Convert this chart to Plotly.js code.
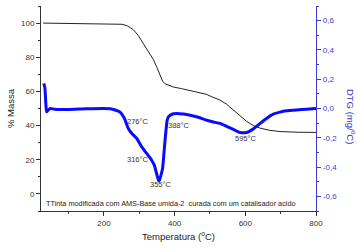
<!DOCTYPE html>
<html><head><meta charset="utf-8">
<script src="https://cdn.plot.ly/plotly-3.0.1.min.js"></script>
<style>html,body{margin:0;padding:0;background:#fff}#c{width:358px;height:250px}</style>
</head><body><div id="c"></div>
<script>
const tgTemp = [28,100,200,251,265,283,297,311,325,340,350,359,366,373,385,396,420,453,472,490,509,528,547,566,585,604,623,642,670,698,750,800];
const tgMass = [100,99.8,99.5,99.3,98.5,96.2,92.8,88.4,83.5,78.6,74,68.8,66,64.5,63.3,62.6,61.6,60.2,59.5,58.3,56.5,55,52.5,49.3,45.8,42.4,40,38.5,37.2,36.5,36.1,36];
const dtgTemp = [30,33,36,38,42,48,60,100,150,200,217,232,245,255,260,269,279,293,307,321,335,343,349,355,357,362,366,370,373,376,379,383,388,397,406,425,444,467,491,510,528,547,566,580,590,600,609,625,642,660,679,698,717,745,773,800];
const dtgVal = [0.171,0.14,0.02,-0.023,-0.012,0.0,-0.005,-0.006,-0.002,0.0,-0.002,-0.01,-0.023,-0.055,-0.08,-0.137,-0.171,-0.205,-0.262,-0.307,-0.353,-0.39,-0.444,-0.494,-0.49,-0.45,-0.41,-0.3,-0.216,-0.14,-0.08,-0.055,-0.045,-0.036,-0.034,-0.038,-0.046,-0.06,-0.08,-0.092,-0.102,-0.122,-0.143,-0.16,-0.166,-0.165,-0.16,-0.135,-0.102,-0.068,-0.039,-0.025,-0.016,-0.01,-0.005,0.0];
const peakLabels = ['276°C','316°C','355°C','388°C','595°C'];
const peakX = [297,296,361,412,602];
const peakY = [42.2,20.4,5.7,39.9,32.6];
const dtgTickVals = [-0.6,-0.4,-0.2,0.0,0.2,0.4,0.6];
const dtgTickText = ['-0,6','-0,4','-0,2','0,0','0,2','0,4','0,6'];
const sampleText = 'TTinta modificada com AMS-Base umida-2  curada com um catalisador acido';

const blue = '#0a0aff';
const axBlue = '#3a3ad0';
const font = 'Liberation Sans, Arial, sans-serif';

const traces = [
  {x: tgTemp, y: tgMass, type:'scatter', mode:'lines', line:{color:'#222', width:1}, xaxis:'x', yaxis:'y', hoverinfo:'skip'},
  {x: dtgTemp, y: dtgVal, type:'scatter', mode:'lines', line:{color:blue, width:3, shape:'spline', smoothing:0.5}, xaxis:'x', yaxis:'y2', hoverinfo:'skip'}
];

const annotations = peakLabels.map((t,i)=>({x:peakX[i], y:peakY[i], xref:'x', yref:'y', text:t, showarrow:false, font:{family:font, size:7.5, color:'#333'}}));
annotations.push({x:0.01, y:0.035, xref:'paper', yref:'paper', xanchor:'left', yanchor:'middle', text:sampleText, showarrow:false, font:{family:font, size:7.3, color:'#222'}});
annotations.push({x:1.13, y:0.46, xref:'paper', yref:'paper', xanchor:'center', yanchor:'middle', text:'DTG (mg/<sup>o</sup>C)', textangle:90, showarrow:false, font:{family:font, size:9.5, color:axBlue}});

const layout = {
  width:358, height:250,
  margin:{l:41, r:42, t:6, b:39},
  paper_bgcolor:'#fff', plot_bgcolor:'#fff',
  showlegend:false,
  font:{family:font, size:8, color:'#333'},
  xaxis:{range:[22,800], tick0:0, dtick:200, ticks:'outside', ticklen:4, tickcolor:'#333', showline:true, linecolor:'#333', linewidth:1, showgrid:false, zeroline:false,
    minor:{dtick:100, tick0:0, ticks:'outside', ticklen:2, tickcolor:'#333', showgrid:false},
    tickfont:{size:8, color:'#333'},
    title:{text:'Temperatura (<sup>o</sup>C)', font:{size:9.5, color:'#222'}, standoff:6}},
  xaxis2:{range:[22,800], overlaying:'x', side:'top', tick0:0, dtick:200, ticks:'inside', ticklen:4, tickcolor:'#333', showticklabels:false, showline:true, linecolor:'#333', linewidth:1, showgrid:false, zeroline:false,
    minor:{dtick:100, tick0:0, ticks:'inside', ticklen:2, tickcolor:'#333', showgrid:false}},
  yaxis:{range:[-10,110], tick0:0, dtick:20, ticks:'outside', ticklen:4, tickcolor:'#333', showline:true, linecolor:'#333', linewidth:1, showgrid:false, zeroline:false,
    minor:{dtick:10, tick0:0, ticks:'outside', ticklen:2, tickcolor:'#333', showgrid:false},
    tickfont:{size:8, color:'#333'},
    title:{text:'% Massa', font:{size:9.5, color:'#222'}, standoff:4}},
  yaxis2:{range:[-0.7,0.7], overlaying:'y', side:'right', tickvals:dtgTickVals, ticktext:dtgTickText, ticks:'outside', ticklen:4, tickcolor:axBlue, showline:true, linecolor:axBlue, linewidth:1.2, showgrid:false, zeroline:false,
    minor:{dtick:0.1, tick0:0, ticks:'outside', ticklen:2, tickcolor:axBlue, showgrid:false},
    tickfont:{size:8, color:axBlue}},
  annotations: annotations
};

Plotly.newPlot('c', traces, layout, {staticPlot:true, displayModeBar:false});
</script>
</body></html>
